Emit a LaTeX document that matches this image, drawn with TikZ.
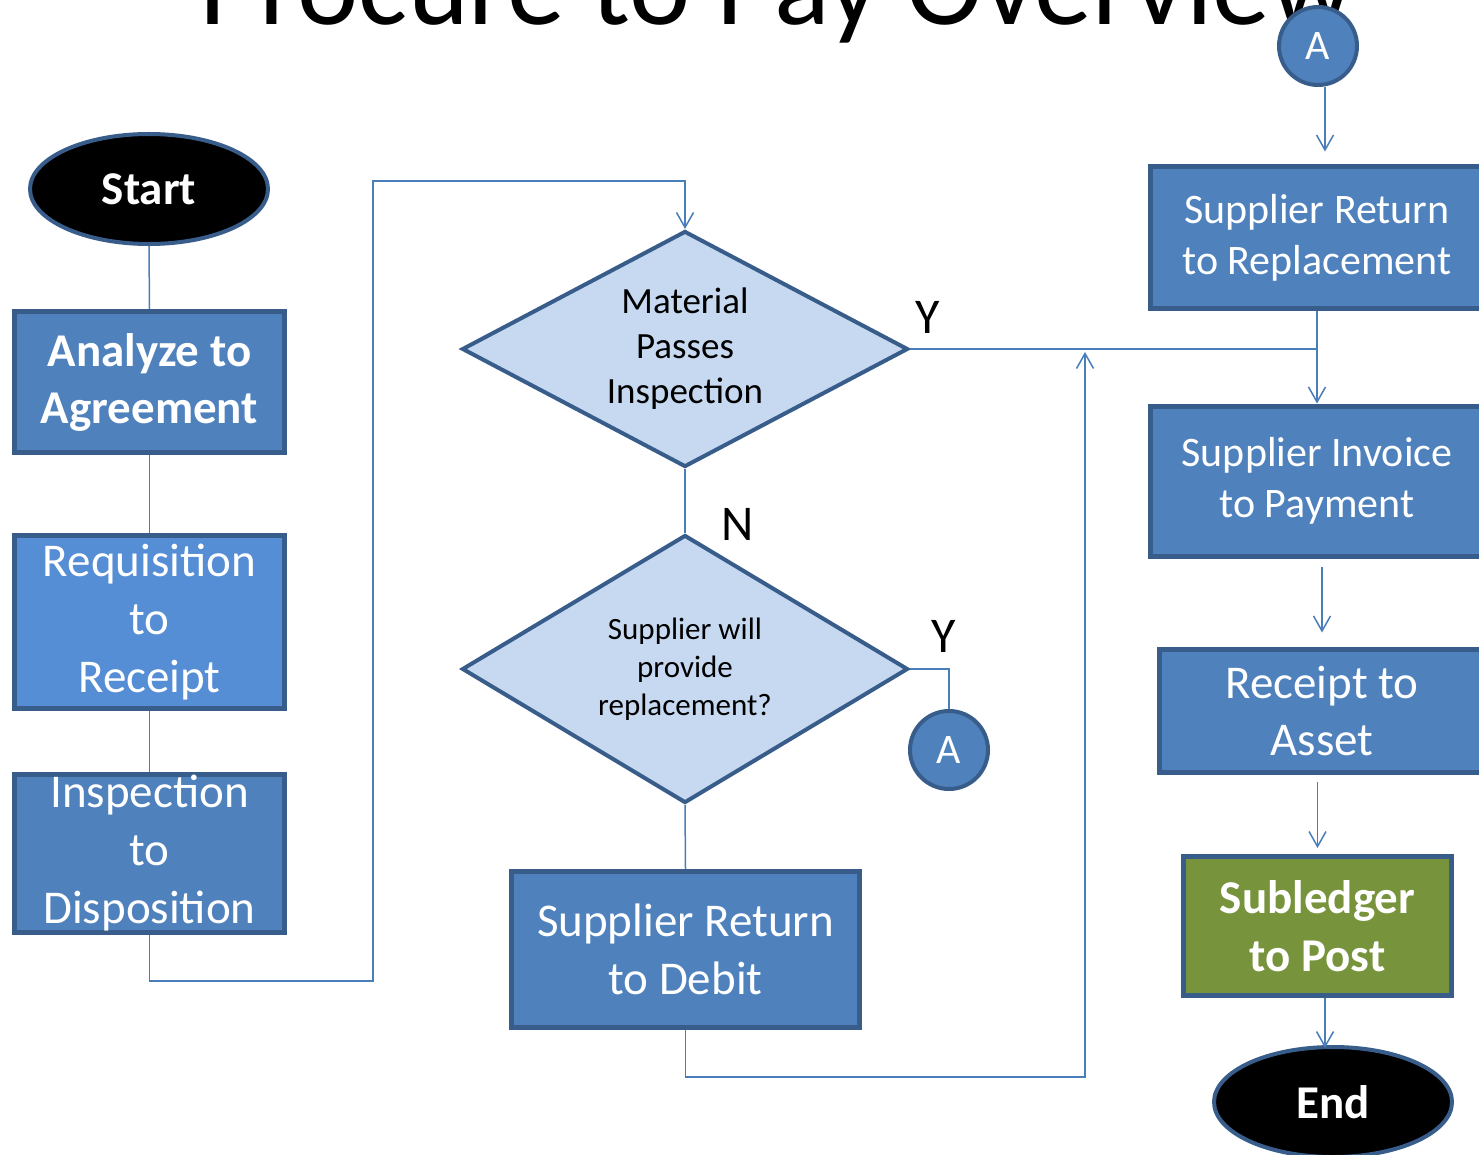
\documentclass[tikz,border=0pt]{standalone}
\usepackage{fontspec}
\setmainfont{Carlito}
\usetikzlibrary{shapes.geometric,arrows.meta,calc}
\definecolor{boxfill}{HTML}{4F81BD}
\definecolor{reqfill}{HTML}{558ED5}
\definecolor{boxline}{HTML}{385D8A}
\definecolor{diafill}{HTML}{C6D9F1}
\definecolor{conn}{HTML}{4A7EBB}
\definecolor{green}{HTML}{77933C}
\tikzset{
  procbox/.style={rectangle, draw=boxline, line width=5pt, fill=boxfill, text=white, align=center, inner sep=0pt},
  termin/.style={ellipse, draw=boxline, line width=4pt, fill=black, text=white, inner sep=0pt, minimum width=238pt, minimum height=110pt, font=\fontsize{47}{57}\selectfont\bfseries},
  decide/.style={diamond, draw=boxline, line width=4pt, fill=diafill, text=black, align=center, inner sep=0pt},
  connector/.style={circle, draw=boxline, line width=4pt, fill=boxfill, text=white, inner sep=0pt, minimum size=78pt, font=\fontsize{42}{50}\selectfont},
  link/.style={draw=conn, line width=1.5pt},
  arr/.style={link, -{Straight Barb[length=15pt,width=17pt,line width=1.5pt]}},
  yn/.style={text=black, font=\fontsize{50}{60}\selectfont}
}
\begin{document}
\begin{tikzpicture}[x=1pt,y=-1pt]
\path[use as bounding box, clip] (0,0) rectangle (1479,1155);
\fill[white] (0,0) rectangle (1479,1155);
% title
\node[anchor=base, inner sep=0pt, font=\fontsize{116}{130}\selectfont] (title) at (776,25) {Procure to Pay Overview};
% left column
\node[termin] (start) at (149,189) {Start};
\node[procbox, minimum width=270pt, minimum height=141pt, font=\fontsize{47}{57}\selectfont\bfseries] (ana) at (149.5,382) {Analyze to\\Agreement};
\node[procbox, fill=reqfill, minimum width=270pt, minimum height=173pt, font=\fontsize{47}{58}\selectfont] (req) at (149.5,622) {Requisition\\to\\Receipt};
\node[procbox, minimum width=270pt, minimum height=158pt, font=\fontsize{47}{58}\selectfont] (insp) at (149.5,853.5) {Inspection\\to\\Disposition};
% middle column
\node[decide, aspect=1.89, minimum width=446pt, minimum height=236pt, font=\fontsize{37}{45}\selectfont] (d1) at (685,349) {Material\\Passes\\Inspection};
\node[decide, aspect=1.66, minimum width=446pt, minimum height=268pt, font=\fontsize{31}{38}\selectfont] (d2) at (685,669) {Supplier will\\provide\\replacement?};
\node[procbox, minimum width=348pt, minimum height=156pt, font=\fontsize{47}{58}\selectfont] (srd) at (685.5,949.5) {Supplier Return\\to Debit};
\node[connector] (abot) at (949,750) {A};
% right column
\node[connector] (atop) at (1318,46) {A};
\node[procbox, minimum width=334pt, minimum height=142pt, font=\fontsize{42}{51}\selectfont] (srr) at (1317,238) {Supplier Return\\to Replacement};
\node[procbox, minimum width=334pt, minimum height=150pt, font=\fontsize{42}{51}\selectfont] (sip) at (1317,481) {Supplier Invoice\\to Payment};
\node[procbox, minimum width=325pt, minimum height=123pt, font=\fontsize{47}{57}\selectfont] (r2a) at (1322,710.5) {Receipt to\\Asset};
\node[procbox, fill=green, minimum width=268pt, minimum height=139pt, font=\fontsize{47}{58}\selectfont\bfseries] (sl) at (1317.5,926) {Subledger\\to Post};
\node[termin] (end) at (1333,1102) {End};
% labels
\node[yn] (y1) at (928,317) {Y};
\node[yn] (n1) at (738,524) {N};
\node[yn] (y2) at (944,636) {Y};
% route coordinates
\coordinate (lp1) at (373,981);
\coordinate (lp2) at (373,181);
\coordinate (lp3) at (1085,1077);
\coordinate (lp4) at (1085,352);
% connectors
\draw[link] (start.south) -- (ana.north);
\draw[link] (ana.south) -- (req.north);
\draw[link] (req.south) -- (insp.north);
\draw[arr] (insp.south) |- (lp1) -- (lp2) -| (d1.north);
\draw[link] (d1.east) -- (d1.east -| srr.south);
\draw[arr] (srr.south) -- (sip.north);
\draw[link] (d1.south) -- (d2.north);
\draw[link] (d2.east) -| (abot.north);
\draw[link] (d2.south) -- (srd.north);
\draw[arr] (srd.south) |- (lp3) -- (lp4);
\draw[arr] ($(atop.south)+(7,0)$) -- ($(srr.north)+(8,-13)$);
\draw[arr] ($(sip.south -| r2a.north)+(0,8)$) -- ($(r2a.north)+(0,-14)$);
\draw[arr] ($(r2a.south -| sl.north)+(0,7)$) -- ($(sl.north)+(0,-6)$);
\draw[arr] ($(sl.south)+(7.5,0)$) -- ($(end.north)+(-8,3)$);
\end{tikzpicture}
\end{document}
